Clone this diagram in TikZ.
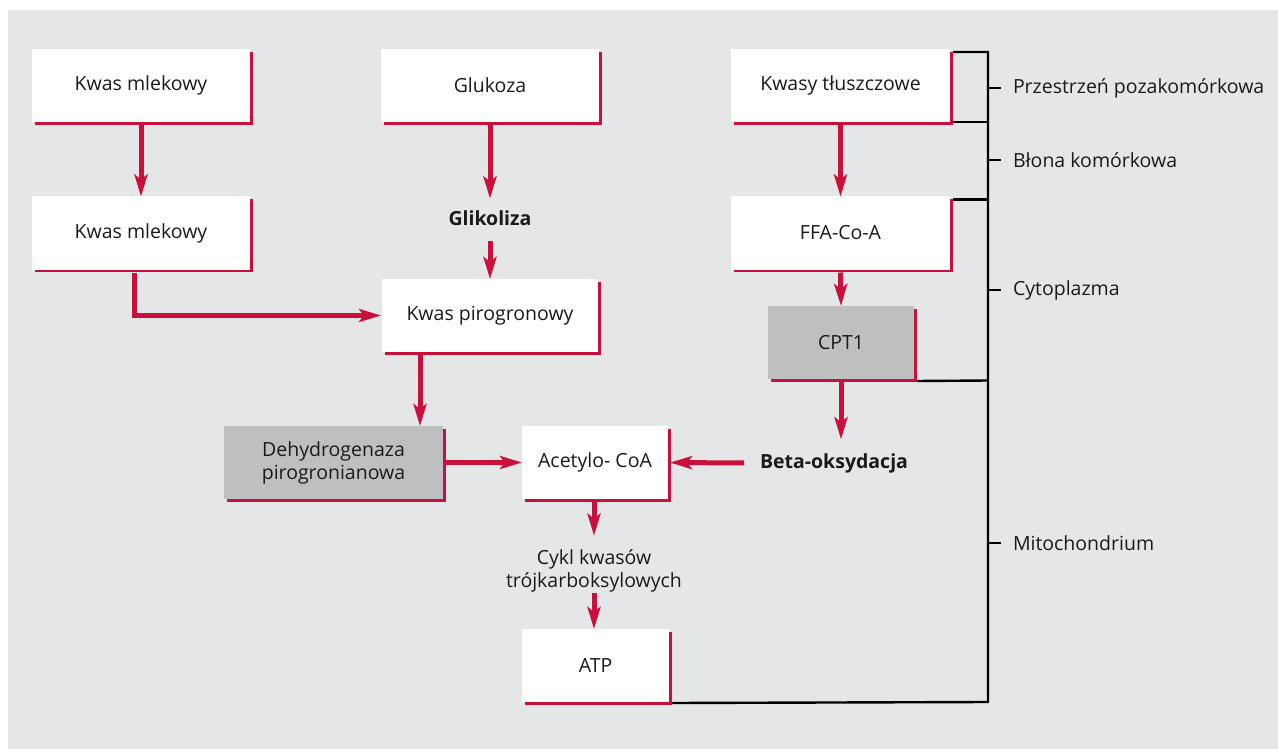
\documentclass[tikz,border=0pt]{standalone}
\usepackage{fontspec}
\setmainfont{Open Sans}
\usetikzlibrary{arrows.meta}
\definecolor{bgc}{HTML}{E5E6E8}
\definecolor{redc}{HTML}{C8103A}
\definecolor{boxgray}{HTML}{BEBFC1}
\definecolor{txt}{HTML}{1A1A1A}
\tikzset{
  wbox/.style={rectangle, fill=white, inner sep=0pt, outer sep=0pt, minimum width=218pt, minimum height=73pt, font=\fontsize{19.5}{23}\selectfont, text=txt, align=center},
  gbox/.style={wbox, fill=boxgray},
  lbl/.style={inner sep=0pt, outer sep=0pt, font=\fontsize{19.5}{23}\selectfont, text=txt, align=center},
  blbl/.style={lbl, font=\fontsize{19.5}{23}\selectfont\bfseries},
  side/.style={inner sep=0pt, outer sep=0pt, anchor=west, font=\fontsize{19.5}{23}\selectfont, text=txt},
  arr/.style={draw=redc, line width=5pt, -{Stealth[length=22pt, width=13pt, inset=5pt]}},
  shadowline/.style={draw=redc, line width=2.8pt},
  blk/.style={draw=black, line width=2.4pt},
}
\begin{document}
\begin{tikzpicture}[x=1pt, y=-1pt]
\useasboundingbox (0,0) rectangle (1278,749);
\fill[bgc] (8,10) rectangle (1278,749);

% boxes
\node[wbox] (km1) at (141,85.5) {Kwas mlekowy};
\node[wbox] (glu) at (490,85.5) {Glukoza};
\node[wbox, minimum width=219pt] (kt) at (840.5,85.5) {Kwasy tłuszczowe};
\node[wbox] (km2) at (141,233) {Kwas mlekowy};
\node[wbox, minimum width=219pt] (ffa) at (840.5,233) {FFA-Co-A};
\node[wbox, minimum width=216pt] (pir) at (490,315.5) {Kwas pirogronowy};
\node[gbox, minimum width=146pt] (cpt) at (841,342.5) {CPT1};
\node[gbox, minimum width=219pt] (dh) at (333.5,462.5) {Dehydrogenaza\\pirogronianowa};
\node[wbox, minimum width=146pt] (ac) at (595,462.5) {Acetylo- CoA};
\node[wbox, minimum width=147pt] (atp) at (595.5,665.5) {ATP};

% labels
\node[blbl] (gl) at (490,218) {Glikoliza};
\node[blbl] (beta) at (834,463) {Beta-oksydacja};
\node[lbl] (cyk) at (594,571) {Cykl kwasów\\trójkarboksylowych};

% red shadow edges
\foreach \n in {km1,glu,kt,km2,ffa,pir,cpt,dh,ac,atp}{
  \draw[shadowline] ([xshift=3pt,yshift=-1.4pt]\n.south west) -- ([xshift=1.4pt,yshift=-1.4pt]\n.south east) -- ([xshift=1.4pt,yshift=-3pt]\n.north east);
}

% black bracket
\coordinate (br1) at (988,52);
\coordinate (br2) at (988,702);
\draw[blk] ([xshift=3pt,yshift=-3pt]kt.north east) -- (br1) -- (br2) -- ([xshift=3pt,yshift=-1pt]atp.south east);
\draw[blk] ([xshift=3pt]kt.south east) -- (988,122);
\draw[blk] ([xshift=3pt,yshift=-3pt]ffa.north east) -- (988,199.5);
\draw[blk] ([xshift=3pt,yshift=-2pt]cpt.south east) -- (988,380.5);

% ticks and side labels
\foreach \yy/\nm/\tx in {88/s1/Przestrzeń pozakomórkowa, 160/s2/Błona komórkowa, 290/s3/Cytoplazma, 543/s4/Mitochondrium}{
  \coordinate (t\nm) at (988,\yy);
  \node[side] (\nm) at (1013,\yy) {\tx};
  \draw[blk] (t\nm) -- ++(13,0);
}

% arrows
\draw[arr] ([yshift=-3pt]km1.south) -- (km2.north);
\draw[arr] ([yshift=-3pt]glu.south) -- ([yshift=12pt]gl.north);
\draw[arr] ([yshift=-15pt]gl.south) -- (pir.north);
\draw[arr] ([xshift=-7pt,yshift=-3pt]km2.south) |- ([xshift=-1pt]pir.west);
\draw[arr] ([xshift=-70pt,yshift=-3pt]pir.south) -- ([xshift=86.5pt]dh.north);
\draw[arr] ([xshift=3pt]dh.east) -- (ac.west);
\draw[arr] ([xshift=-16pt]beta.west) -- ([xshift=2pt]ac.east);
\draw[arr] ([yshift=-3pt]kt.south) -- (ffa.north);
\draw[arr] ([yshift=-3pt]ffa.south) -- (cpt.north);
\draw[arr] ([yshift=-3pt]cpt.south) -- ([xshift=7pt,yshift=14pt]beta.north);
\draw[arr] ([xshift=-1pt,yshift=-3pt]ac.south) -- ([yshift=14pt]cyk.north);
\draw[arr] ([yshift=-1pt]cyk.south) -- ([xshift=-1.5pt]atp.north);
\end{tikzpicture}
\end{document}
